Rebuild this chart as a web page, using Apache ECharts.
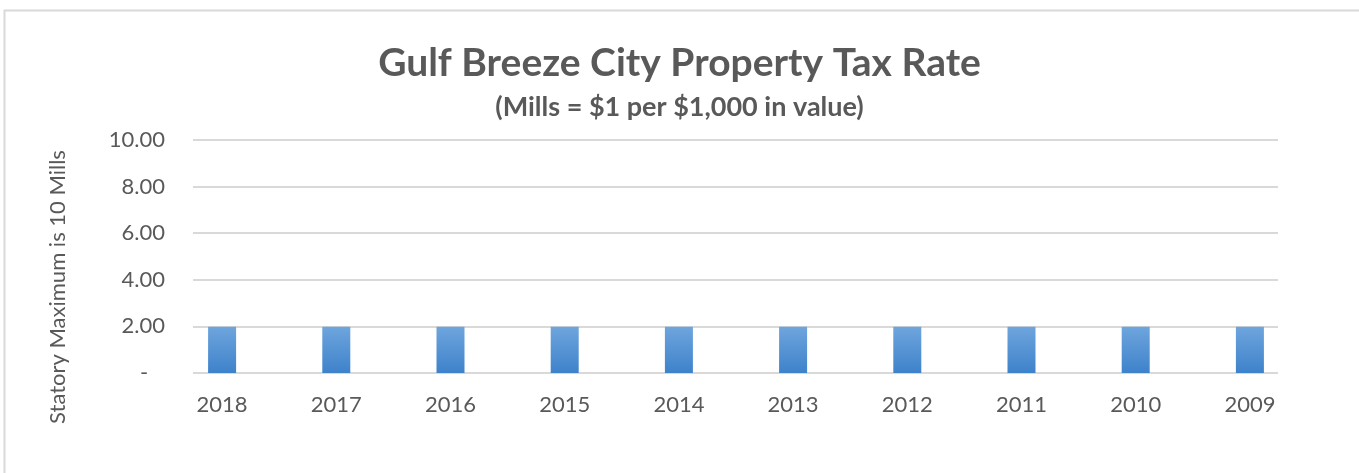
<!DOCTYPE html>
<html>
<head>
<meta charset="utf-8">
<script src="https://cdn.jsdelivr.net/npm/echarts@6/dist/echarts.min.js"></script>
<style>
html,body{margin:0;padding:0;background:#fff;}
#taxChart{width:1359px;height:473px;}
</style>
</head>
<body>
<div id="taxChart"></div>
<script>
// Gulf Breeze City property tax rate (mills)

const years = ["2018","2017","2016","2015","2014","2013","2012","2011","2010","2009"];
const millage = [1.98,1.98,1.98,1.98,1.98,1.98,1.98,1.98,1.98,1.98];
const yTicks = [0,2,4,6,8,10];

const chartDom = document.getElementById("taxChart");
const chart = echarts.init(chartDom);

const font = "Lato";
const grey = "#595959";

const option = {

backgroundColor:"#fff",

title:[
{
text:"Gulf Breeze City Property Tax Rate",
left:"center",
top:39,
textStyle:{
color:grey,
fontFamily:font,
fontWeight:"bold",
fontSize:39
}
},
{
text:"(Mills = $1 per $1,000 in value)",
left:"center",
top:89,
textStyle:{
color:grey,
fontFamily:font,
fontWeight:"bold",
fontSize:27
}
}
],

graphic:[
{
type:"rect",
left:2,
top:8,
shape:{width:1400,height:500},
style:{fill:"none",stroke:"#d9d9d9",lineWidth:2},
silent:true
},
{
type:"text",
x:58,
y:287,
rotation:Math.PI/2,
style:{
text:"Statory Maximum is 10 Mills",
fill:grey,
font:"22px " + font,
textAlign:"center",
textVerticalAlign:"middle"
}
}
],

// grid 0 carries the value scale and gridlines, grid 1 the bars
grid:[
{left:193,right:81,top:140,bottom:100},
{left:165,right:52,top:140,bottom:100}
],

xAxis:[
{
type:"category",
gridIndex:0,
data:years,
show:false
},
{
type:"category",
gridIndex:1,
data:years,
axisLine:{show:false},
axisTick:{show:false},
axisLabel:{
color:grey,
fontFamily:font,
fontSize:22,
margin:21
}
}
],

yAxis:[
{
type:"value",
gridIndex:0,
min:yTicks[0],
max:yTicks[yTicks.length-1],
interval:2,
axisLine:{show:false},
axisTick:{show:false},
splitLine:{
lineStyle:{color:"#d9d9d9",width:2}
},
axisLabel:{
color:grey,
fontFamily:font,
fontSize:22,
margin:28,
formatter:v=>v===0 ? "-   " : v.toFixed(2)
}
},
{
type:"value",
gridIndex:1,
min:yTicks[0],
max:yTicks[yTicks.length-1],
interval:2,
show:false,
splitLine:{show:false}
}
],

series:[
{
type:"bar",
xAxisIndex:1,
yAxisIndex:1,
data:millage,
barWidth:28,
itemStyle:{
color:new echarts.graphic.LinearGradient(0,0,0,1,[
{offset:0,color:"#6ea5dd"},
{offset:1,color:"#3e82cb"}
]),
shadowColor:"rgba(0,0,0,0.45)",
shadowBlur:8,
shadowOffsetX:0,
shadowOffsetY:0
}
}
]

};

chart.setOption(option);

window.addEventListener(
"resize",
()=>chart.resize()
);
</script>
</body>
</html>
